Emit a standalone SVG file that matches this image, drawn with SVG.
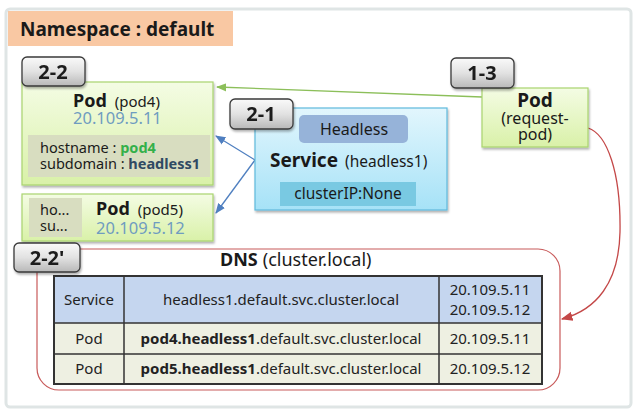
<svg xmlns="http://www.w3.org/2000/svg" width="640" height="412" viewBox="0 0 640 412">
<defs>
<linearGradient id="gBadge" x1="0" y1="0" x2="0" y2="1"><stop offset="0" stop-color="#fafafa"/><stop offset="0.5" stop-color="#e2e2e2"/><stop offset="1" stop-color="#b8b8b8"/></linearGradient>
<linearGradient id="gPod" x1="0" y1="0" x2="0" y2="1"><stop offset="0" stop-color="#f4fce4"/><stop offset="1" stop-color="#d9f1a8"/></linearGradient>
<linearGradient id="gSvc" x1="0" y1="0" x2="0" y2="1"><stop offset="0" stop-color="#e2f6fd"/><stop offset="1" stop-color="#a6e2f7"/></linearGradient>
<marker id="mGreen" viewBox="0 0 10 10" refX="9" refY="5" markerWidth="8" markerHeight="8" orient="auto"><path d="M0,1 L10,5 L0,9 z" fill="#8cbf5a"/></marker>
<marker id="mBlue" viewBox="0 0 10 10" refX="9" refY="5" markerWidth="8" markerHeight="8" orient="auto"><path d="M0,1 L10,5 L0,9 z" fill="#4f7fc0"/></marker>
<marker id="mRed" viewBox="0 0 10 10" refX="9" refY="5" markerWidth="9" markerHeight="9" orient="auto"><path d="M0,1 L10,5 L0,9 z" fill="#c44848"/></marker>
<filter id="sh" x="-10%" y="-10%" width="130%" height="140%"><feDropShadow dx="1" dy="2" stdDeviation="1.2" flood-color="#000" flood-opacity="0.3"/></filter>
</defs>
<style>
text{font-family:"Noto Sans","Open Sans",sans-serif;fill:#1a1a1a}
.badge rect{fill:url(#gBadge);stroke:#3a3a3a;stroke-width:1.3}
.badge text{font-size:20px;font-weight:bold;text-anchor:middle}
.pod{fill:url(#gPod);stroke:#a9d46e;stroke-width:1.2}
.b{font-weight:bold}
.ip{fill:#6f9cc0}
.t14{font-size:14.5px}
.cell{font-size:15px;text-anchor:middle;fill:#222}
</style>
<rect x="6" y="9" width="625" height="398" rx="4" fill="#fff" stroke="#dfe5e5" stroke-width="3"/>
<g id="namespace">
<rect x="8" y="11" width="225" height="35" fill="#f9c8a3"/>
<text x="20" y="36" font-size="19" class="b">Namespace : default</text>
</g>
<g id="connectors" fill="none">
<path d="M482,97 L217,87" stroke="#8cbf5a" stroke-width="1.3" marker-end="url(#mGreen)"/>
<path d="M255,160 L216,136" stroke="#4f7fc0" stroke-width="1.3" marker-end="url(#mBlue)"/>
<path d="M255,160 L216,213" stroke="#4f7fc0" stroke-width="1.3" marker-end="url(#mBlue)"/>
<path d="M588,128 C607,134 621,172 620,232 C619,283 596,310 562,319" stroke="#c44848" stroke-width="1.3" marker-end="url(#mRed)"/>
</g>
<g id="pod4">
<rect class="pod" x="22" y="82" width="191" height="103" filter="url(#sh)"/>
<text x="73" y="107"><tspan class="b" font-size="18">Pod</tspan><tspan font-size="15" dx="8">(pod4)</tspan></text>
<text x="73" y="124" font-size="16.5" class="ip">20.109.5.11</text>
<rect x="28" y="135" width="182" height="42" fill="#d8ddc0"/>
<text x="40" y="153" class="t14">hostname : <tspan class="b" fill="#33b04a">pod4</tspan></text>
<text x="40" y="169" class="t14">subdomain : <tspan class="b" fill="#2f4a63">headless1</tspan></text>
</g>
<g id="pod5">
<rect class="pod" x="22" y="194" width="191" height="47" filter="url(#sh)"/>
<rect x="29" y="198" width="53" height="39" fill="#d8ddc0"/>
<text x="40" y="215" class="t14">ho...</text>
<text x="40" y="231" class="t14">su...</text>
<text x="96" y="215"><tspan class="b" font-size="18">Pod</tspan><tspan font-size="15" dx="8">(pod5)</tspan></text>
<text x="96" y="234" font-size="16.5" class="ip">20.109.5.12</text>
</g>
<g id="service">
<rect x="255" y="108" width="192" height="102" fill="url(#gSvc)" stroke="#5fb9dc" stroke-width="1.2" filter="url(#sh)"/>
<rect x="299" y="115" width="109" height="28" rx="5" fill="#96b3d9"/>
<text x="354" y="135" font-size="16" text-anchor="middle" fill="#3c4550">Headless</text>
<text x="270" y="167"><tspan class="b" font-size="19">Service</tspan><tspan font-size="15.5" dx="7">(headless1)</tspan></text>
<rect x="280" y="182" width="136" height="24" fill="#79c9e2"/>
<text x="348" y="199" font-size="15.5" text-anchor="middle" fill="#2a3a44">clusterIP:None</text>
</g>
<g id="request-pod">
<rect class="pod" x="482" y="88" width="106" height="59" filter="url(#sh)"/>
<text x="535" y="107" font-size="19" class="b" text-anchor="middle">Pod</text>
<text x="535" y="124" font-size="16" text-anchor="middle">(request-</text>
<text x="535" y="140" font-size="16" text-anchor="middle">pod)</text>
</g>
<g id="dns">
<rect x="37" y="249" width="523" height="141" rx="22" fill="#fff" stroke="#c85a5a" stroke-width="1.2"/>
<text x="220" y="266" font-size="18"><tspan class="b">DNS</tspan><tspan dx="5">(cluster.local)</tspan></text>
<rect x="54" y="276" width="488" height="47" fill="#c5d6ef"/>
<rect x="54" y="323" width="488" height="61" fill="#eef0e2"/>
<g stroke="#333" fill="none">
<rect x="54" y="276" width="488" height="108" stroke-width="2"/>
<line x1="54" y1="323" x2="542" y2="323" stroke-width="1.5"/>
<line x1="54" y1="354" x2="542" y2="354" stroke-width="1.5"/>
<line x1="124" y1="276" x2="124" y2="384" stroke-width="1.5"/>
<line x1="439" y1="276" x2="439" y2="384" stroke-width="1.5"/>
</g>
<text class="cell" x="89" y="305">Service</text>
<text class="cell" x="281" y="305" font-size="15.5">headless1.default.svc.cluster.local</text>
<text class="cell" x="490" y="295">20.109.5.11</text>
<text class="cell" x="490" y="315">20.109.5.12</text>
<text class="cell" x="89" y="344">Pod</text>
<text class="cell" x="281" y="344"><tspan class="b">pod4.headless1</tspan>.default.svc.cluster.local</text>
<text class="cell" x="490" y="344">20.109.5.11</text>
<text class="cell" x="89" y="374">Pod</text>
<text class="cell" x="281" y="374"><tspan class="b">pod5.headless1</tspan>.default.svc.cluster.local</text>
<text class="cell" x="490" y="374">20.109.5.12</text>
</g>
<g id="badge-2-2" class="badge" filter="url(#sh)"><rect x="22" y="57" width="63" height="29" rx="5"/><text x="53" y="79">2-2</text></g>
<g id="badge-2-1" class="badge" filter="url(#sh)"><rect x="230" y="99" width="63" height="30" rx="5"/><text x="261" y="121">2-1</text></g>
<g id="badge-1-3" class="badge" filter="url(#sh)"><rect x="451" y="58" width="63" height="30" rx="5"/><text x="482" y="80">1-3</text></g>
<g id="badge-2-2p" class="badge" filter="url(#sh)"><rect x="14" y="243" width="66" height="29" rx="5"/><text x="47" y="265">2-2'</text></g>
</svg>
